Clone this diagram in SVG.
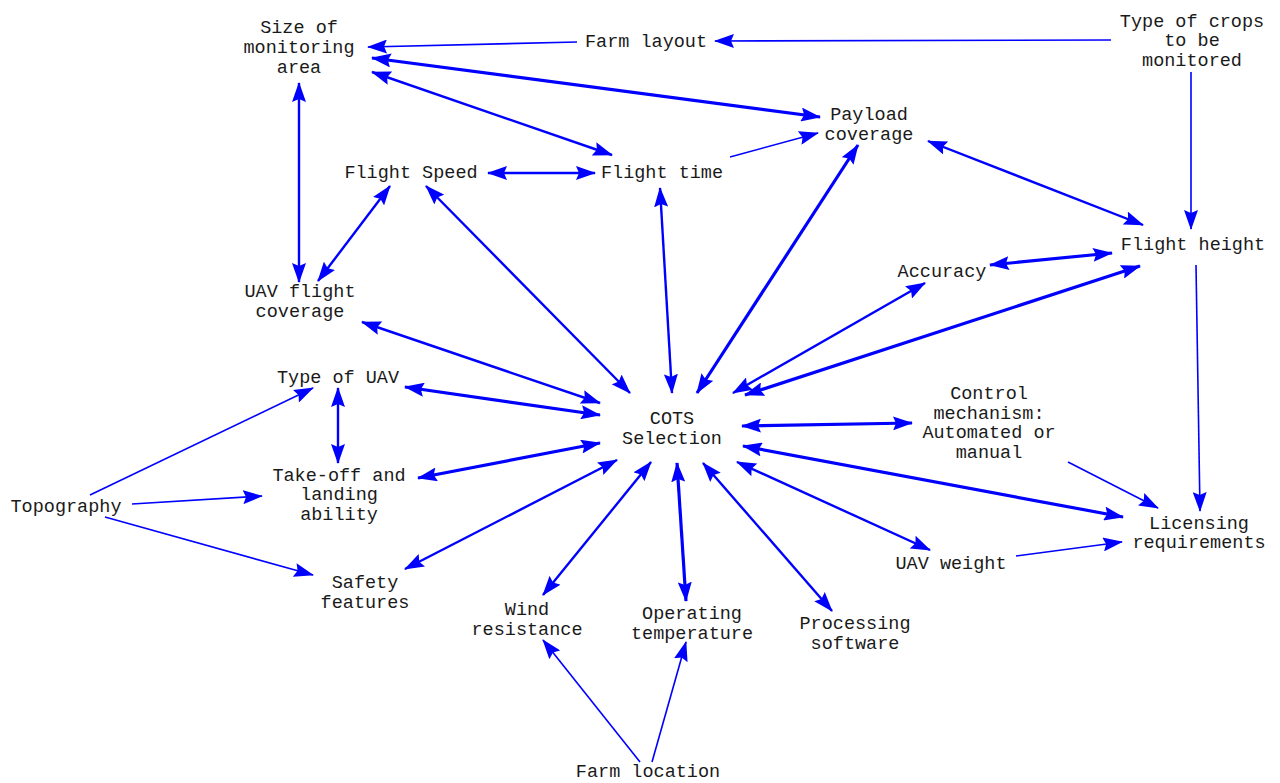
<svg xmlns="http://www.w3.org/2000/svg" width="1280" height="783" viewBox="0 0 1280 783">
  <defs>
    <style>
      .lbl { font-family: "Liberation Mono", "DejaVu Sans Mono", monospace; font-size: 18.5px; fill: #1a1a1a; text-anchor: middle; }
      .e { stroke: #0000ff; fill: none; marker-end: url(#ah); }
      .bi { marker-start: url(#ah); }
      .thin { stroke-width: 1.6; }
      .mid { stroke-width: 2.4; }
      .thick { stroke-width: 3.2; }
    </style>
    <marker id="ah" viewBox="0 0 20 14" refX="19" refY="7" markerWidth="20" markerHeight="14" markerUnits="userSpaceOnUse" orient="auto-start-reverse">
      <path d="M0,0 L20,7 L0,14 L3,7 z" fill="#0000ff"/>
    </marker>
  </defs>
  <rect width="1280" height="783" fill="#ffffff"/>

  <!-- connectors -->
  <g id="connectors">
    <line class="e thin" x1="577" y1="42" x2="368" y2="47"/>
    <line class="e thin" x1="1111" y1="40" x2="715" y2="41"/>
    <line class="e bi thick" x1="372" y1="58" x2="820" y2="117"/>
    <line class="e bi mid" x1="372" y1="72" x2="612" y2="155"/>
    <line class="e bi mid" x1="299" y1="83" x2="299" y2="282"/>
    <line class="e bi mid" x1="488" y1="173" x2="595" y2="173"/>
    <line class="e thin" x1="730" y1="157" x2="818" y2="133"/>
    <line class="e bi mid" x1="390" y1="186" x2="318" y2="281"/>
    <line class="e bi mid" x1="426" y1="186" x2="630" y2="393"/>
    <line class="e bi mid" x1="660" y1="188" x2="672" y2="393"/>
    <line class="e bi thick" x1="858" y1="145" x2="697" y2="393"/>
    <line class="e bi mid" x1="928" y1="141" x2="1143" y2="225"/>
    <line class="e bi thick" x1="990" y1="265" x2="1112" y2="253"/>
    <line class="e bi mid" x1="925" y1="283" x2="733" y2="393"/>
    <line class="e bi thick" x1="1140" y1="266" x2="745" y2="395"/>
    <line class="e thin" x1="1191" y1="72" x2="1191" y2="229"/>
    <line class="e thin" x1="1196" y1="265" x2="1200" y2="511"/>
    <line class="e bi mid" x1="362" y1="322" x2="600" y2="403"/>
    <line class="e bi thick" x1="405" y1="387" x2="600" y2="415"/>
    <line class="e bi mid" x1="338" y1="388" x2="338" y2="463"/>
    <line class="e bi thick" x1="418" y1="478" x2="600" y2="443"/>
    <line class="e thin" x1="90" y1="495" x2="313" y2="388"/>
    <line class="e thin" x1="132" y1="504" x2="262" y2="496"/>
    <line class="e thin" x1="105" y1="517" x2="313" y2="575"/>
    <line class="e bi mid" x1="405" y1="569" x2="617" y2="460"/>
    <line class="e bi mid" x1="543" y1="595" x2="651" y2="462"/>
    <line class="e bi thick" x1="686" y1="601" x2="677" y2="463"/>
    <line class="e bi mid" x1="832" y1="611" x2="703" y2="463"/>
    <line class="e bi mid" x1="930" y1="550" x2="737" y2="462"/>
    <line class="e bi thick" x1="1123" y1="517" x2="743" y2="446"/>
    <line class="e bi thick" x1="742" y1="426" x2="912" y2="423"/>
    <line class="e thin" x1="1068" y1="462" x2="1158" y2="508"/>
    <line class="e thin" x1="1016" y1="556" x2="1122" y2="542"/>
    <line class="e thin" x1="640" y1="762" x2="543" y2="640"/>
    <line class="e thin" x1="652" y1="762" x2="686" y2="642"/>
  </g>

  <!-- nodes -->
  <g id="size-area"><text class="lbl" x="299" y="33">Size of</text><text class="lbl" x="299" y="53">monitoring</text><text class="lbl" x="299" y="73">area</text></g>
  <g id="farm-layout"><text class="lbl" x="646" y="47">Farm layout</text></g>
  <g id="crop-type"><text class="lbl" x="1192" y="27">Type of crops</text><text class="lbl" x="1192" y="46">to be</text><text class="lbl" x="1192" y="66">monitored</text></g>
  <g id="payload"><text class="lbl" x="869" y="120">Payload</text><text class="lbl" x="869" y="140">coverage</text></g>
  <g id="flight-speed"><text class="lbl" x="411" y="178">Flight Speed</text></g>
  <g id="flight-time"><text class="lbl" x="662" y="178">Flight time</text></g>
  <g id="flight-height"><text class="lbl" x="1193" y="250">Flight height</text></g>
  <g id="accuracy"><text class="lbl" x="942" y="277">Accuracy</text></g>
  <g id="uav-coverage"><text class="lbl" x="300" y="297">UAV flight</text><text class="lbl" x="300" y="317">coverage</text></g>
  <g id="uav-type"><text class="lbl" x="338" y="383">Type of UAV</text></g>
  <g id="cots"><text class="lbl" x="672" y="424">COTS</text><text class="lbl" x="672" y="444">Selection</text></g>
  <g id="control"><text class="lbl" x="989" y="399">Control</text><text class="lbl" x="989" y="419">mechanism:</text><text class="lbl" x="989" y="438">Automated or</text><text class="lbl" x="989" y="458">manual</text></g>
  <g id="takeoff"><text class="lbl" x="339" y="481">Take-off and</text><text class="lbl" x="339" y="500">landing</text><text class="lbl" x="339" y="520">ability</text></g>
  <g id="topography"><text class="lbl" x="66" y="512">Topography</text></g>
  <g id="licensing"><text class="lbl" x="1199" y="529">Licensing</text><text class="lbl" x="1199" y="548">requirements</text></g>
  <g id="uav-weight"><text class="lbl" x="951" y="569">UAV weight</text></g>
  <g id="safety"><text class="lbl" x="365" y="588">Safety</text><text class="lbl" x="365" y="608">features</text></g>
  <g id="wind"><text class="lbl" x="527" y="615">Wind</text><text class="lbl" x="527" y="635">resistance</text></g>
  <g id="temperature"><text class="lbl" x="692" y="619">Operating</text><text class="lbl" x="692" y="639">temperature</text></g>
  <g id="software"><text class="lbl" x="855" y="629">Processing</text><text class="lbl" x="855" y="649">software</text></g>
  <g id="farm-location"><text class="lbl" x="648" y="777">Farm location</text></g>
</svg>
